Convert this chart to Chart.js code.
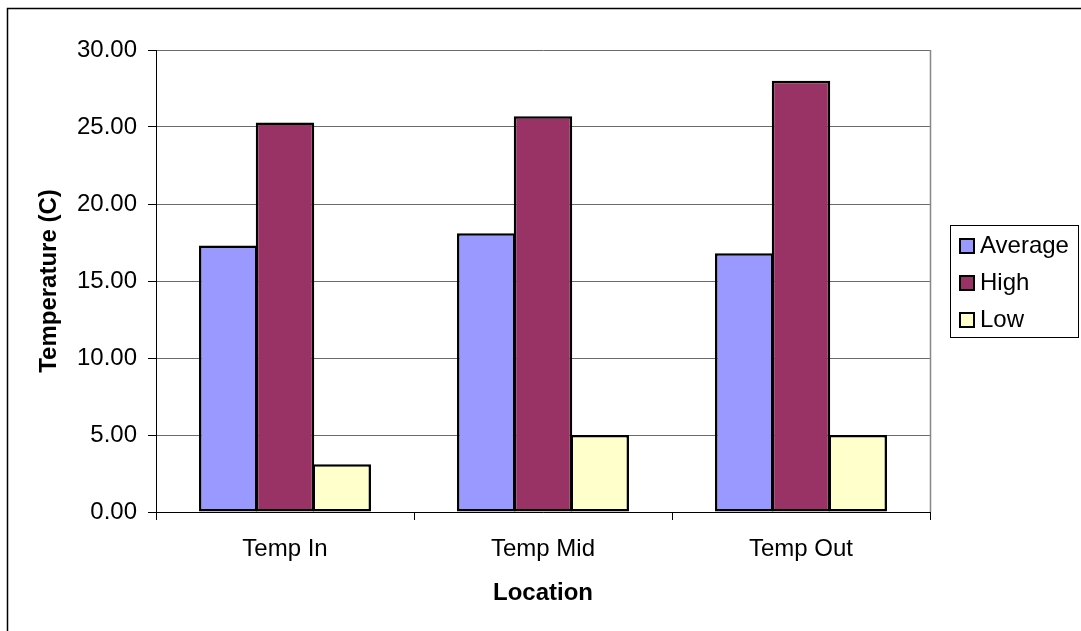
<!DOCTYPE html>
<html>
<head>
<meta charset="utf-8">
<title>Temperature by Location</title>
<script src="https://cdn.jsdelivr.net/npm/chart.js@4/dist/chart.umd.min.js"></script>
<style>
  html, body { margin: 0; padding: 0; background: #ffffff; }
  #wrap { width: 1081px; height: 631px; }
</style>
</head>
<body>
<div id="wrap"><canvas id="chart" width="1081" height="631"></canvas></div>
<script>
// Chart data
const locations = ['Temp In', 'Temp Mid', 'Temp Out'];
const seriesNames = ['Average', 'High', 'Low'];
const averageTemps = [17.3, 18.1, 16.8];
const highTemps = [25.3, 25.7, 28.0];
const lowTemps = [3.1, 5.0, 5.0];
const yMin = 0;
const yMax = 30;
const yStep = 5;

const FONT = "'Liberation Sans', Arial, Helvetica, sans-serif";

// Outer frame of the chart object
const frame = {
  id: 'frame',
  beforeDraw(chart) {
    const ctx = chart.ctx;
    ctx.save();
    ctx.fillStyle = '#ffffff';
    ctx.fillRect(0, 0, chart.width, chart.height);
    ctx.strokeStyle = '#000000';
    ctx.lineWidth = 1.5;
    ctx.strokeRect(7.5, 8.5, chart.width + 20, chart.height + 20);
    ctx.restore();
  }
};

// Gray right edge of the plot area
const plotEdge = {
  id: 'plotEdge',
  beforeDatasetsDraw(chart) {
    const { ctx, chartArea } = chart;
    ctx.save();
    ctx.strokeStyle = '#888888';
    ctx.lineWidth = 1.5;
    ctx.beginPath();
    ctx.moveTo(chartArea.right + 0.5, chartArea.top);
    ctx.lineTo(chartArea.right + 0.5, chartArea.bottom);
    ctx.stroke();
    ctx.restore();
  }
};

// Boxed legend to the right of the plot
const boxLegend = {
  id: 'boxLegend',
  afterDraw(chart) {
    const ctx = chart.ctx;
    const x = 950, y = 225, w = 128, h = 112;
    ctx.save();
    ctx.fillStyle = '#ffffff';
    ctx.fillRect(x, y, w, h);
    ctx.strokeStyle = '#000000';
    ctx.lineWidth = 1;
    ctx.strokeRect(x + 0.5, y + 0.5, w, h);
    ctx.font = '24px ' + FONT;
    ctx.textBaseline = 'alphabetic';
    ctx.textAlign = 'left';
    chart.data.datasets.forEach((ds, i) => {
      const rowBase = 253 + i * 37;
      const sq = 14;
      const sx = 960, sy = rowBase - 14;
      ctx.fillStyle = ds.backgroundColor;
      ctx.fillRect(sx, sy, sq, sq);
      ctx.strokeStyle = '#000000';
      ctx.lineWidth = 2;
      ctx.strokeRect(sx, sy, sq, sq);
      ctx.fillStyle = '#000000';
      ctx.fillText(ds.label, 980, rowBase);
    });
    ctx.restore();
  }
};

const barStyle = { borderColor: '#000000', borderWidth: 2.5, borderSkipped: false };

new Chart(document.getElementById('chart'), {
  type: 'bar',
  data: {
    labels: locations,
    datasets: [
      Object.assign({ label: seriesNames[0], data: averageTemps, backgroundColor: '#9999FF' }, barStyle),
      Object.assign({ label: seriesNames[1], data: highTemps, backgroundColor: '#993366' }, barStyle),
      Object.assign({ label: seriesNames[2], data: lowTemps, backgroundColor: '#FFFFCC' }, barStyle)
    ]
  },
  options: {
    responsive: false,
    animation: false,
    events: [],
    layout: { padding: { left: 0, top: 50, right: 151, bottom: 0 } },
    datasets: { bar: { categoryPercentage: 0.66, barPercentage: 1.03 } },
    plugins: {
      legend: { display: false },
      tooltip: { enabled: false },
      title: { display: false }
    },
    scales: {
      x: {
        afterFit(scale) { scale.height = 119; },
        grid: {
          offset: true,
          drawOnChartArea: false,
          drawTicks: true,
          tickLength: 8,
          tickColor: '#000000'
        },
        border: { display: true, color: '#000000', width: 1 },
        ticks: {
          color: '#000000',
          font: { family: FONT, size: 24 },
          padding: 15,
          maxRotation: 0
        },
        title: {
          display: true,
          text: 'Location',
          color: '#000000',
          font: { family: FONT, size: 24, weight: 'bold' },
          padding: { top: 0, bottom: 23 }
        }
      },
      y: {
        min: yMin,
        max: yMax,
        afterFit(scale) { scale.width = 156; },
        grid: {
          color: '#6b6b6b',
          drawTicks: true,
          tickLength: 8,
          tickColor: '#000000'
        },
        border: { display: true, color: '#000000', width: 1 },
        ticks: {
          stepSize: yStep,
          color: '#000000',
          font: { family: FONT, size: 24 },
          padding: 11,
          callback: (v) => Number(v).toFixed(2)
        },
        title: {
          display: true,
          text: 'Temperature (C)',
          color: '#000000',
          font: { family: FONT, size: 24, weight: 'bold' },
          padding: { top: 35, bottom: 0 }
        }
      }
    }
  },
  plugins: [frame, plotEdge, boxLegend]
});
</script>
</body>
</html>
